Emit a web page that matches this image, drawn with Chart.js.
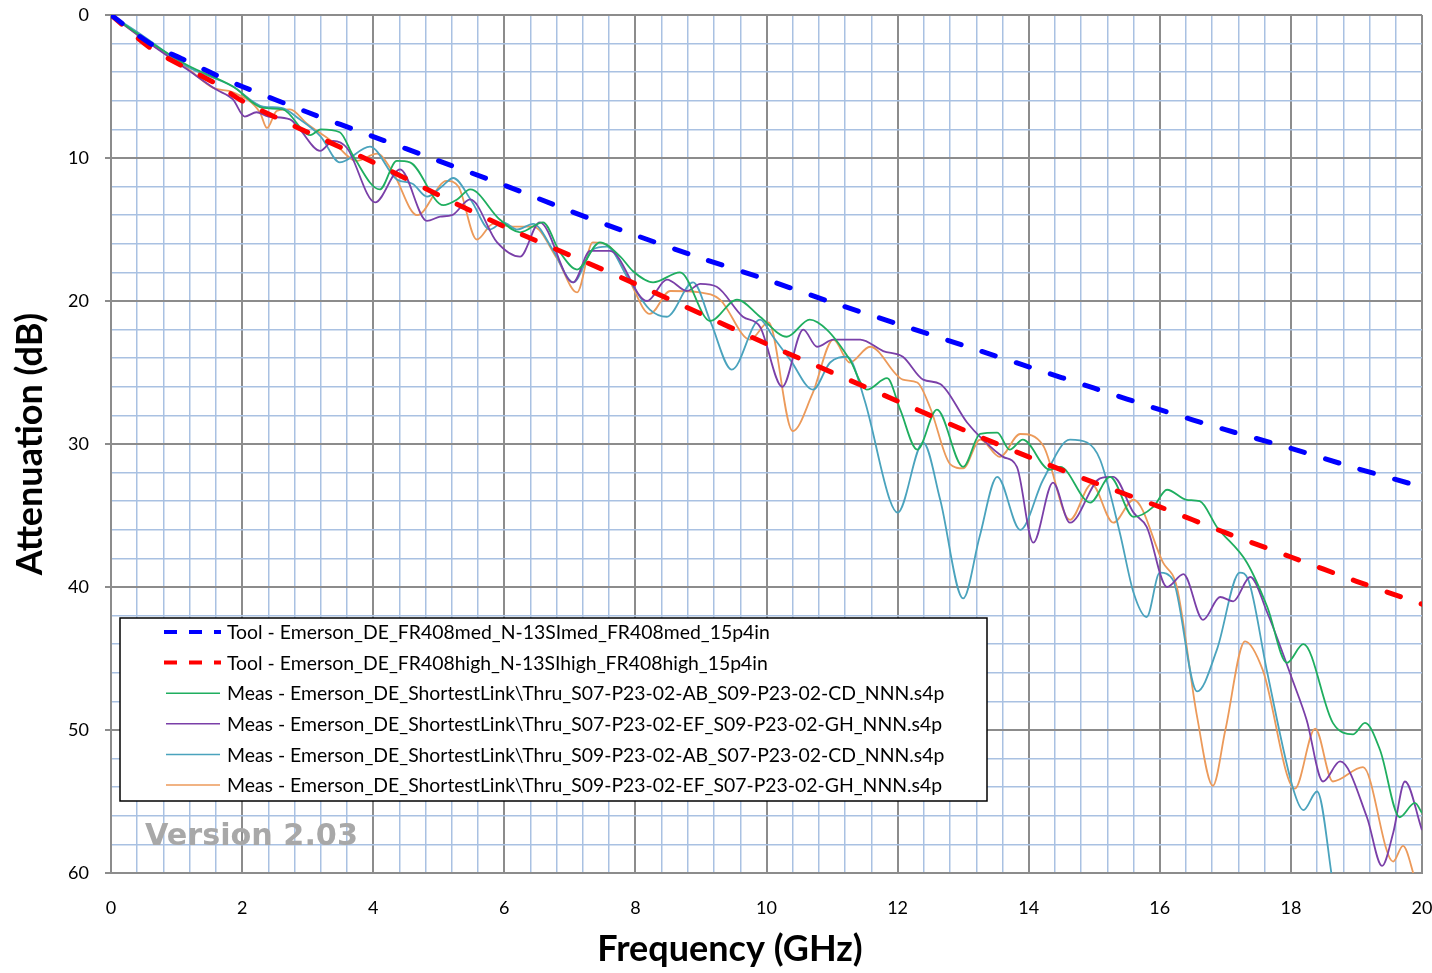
<!DOCTYPE html>
<html>
<head>
<meta charset="utf-8">
<script src="https://cdn.jsdelivr.net/npm/chart.js@4.4.1/dist/chart.umd.min.js"></script>
<style>
  html, body { margin: 0; padding: 0; background: #fff; }
</style>
</head>
<body>
<canvas id="chart" width="1432" height="973"></canvas>
<script>
// axis text
const xTitle = 'Frequency (GHz)';
const yTitle = 'Attenuation (dB)';
const watermarkText = 'Version 2.03';

const seriesNames = [
  'Tool - Emerson_DE_FR408med_N-13SImed_FR408med_15p4in',
  'Tool - Emerson_DE_FR408high_N-13SIhigh_FR408high_15p4in',
  'Meas - Emerson_DE_ShortestLink\\Thru_S07-P23-02-AB_S09-P23-02-CD_NNN.s4p',
  'Meas - Emerson_DE_ShortestLink\\Thru_S07-P23-02-EF_S09-P23-02-GH_NNN.s4p',
  'Meas - Emerson_DE_ShortestLink\\Thru_S09-P23-02-AB_S07-P23-02-CD_NNN.s4p',
  'Meas - Emerson_DE_ShortestLink\\Thru_S09-P23-02-EF_S07-P23-02-GH_NNN.s4p'
];

// tool (model) curves
const toolFreq = [0, 0.6, 1.1, 1.6, 2, 3, 4, 5, 6, 7, 8, 9, 10, 11, 12, 13, 14, 15, 16, 17, 18, 19, 20];
const toolMedDb = [0, 2.0, 3.1, 4.2, 5.0, 6.8, 8.5, 10.2, 11.9, 13.7, 15.4, 17.0, 18.5, 20.1, 21.6, 23.1, 24.6, 26.1, 27.6, 29.0, 30.3, 31.7, 33.0];
const toolHighDb = [0, 2.3, 3.6, 4.8, 6.0, 8.2, 10.3, 12.6, 14.8, 16.8, 18.8, 20.9, 23.0, 25.0, 27.0, 29.0, 30.9, 32.7, 34.4, 36.2, 37.9, 39.6, 41.2];

// S07 AB / S09 CD (green)
const abCdFreq = [0, 0.5, 1.16, 1.86, 2.32, 2.62, 3.04, 3.2, 3.49, 3.7, 4.1, 4.36, 4.56, 5.07, 5.28, 5.48, 5.93, 6.24, 6.59, 6.85, 7.11, 7.46, 7.77, 7.96, 8.27, 8.68, 9.14, 9.55, 9.9, 10.31, 10.66, 10.92, 11.27, 11.53, 11.84, 12.04, 12.3, 12.6, 13.0, 13.26, 13.52, 13.71, 13.91, 14.32, 14.48, 14.94, 15.24, 15.6, 15.9, 16.11, 16.41, 16.61, 16.87, 17.33, 17.64, 17.94, 18.19, 18.64, 18.95, 19.13, 19.36, 19.66, 19.89, 20.0];
const abCdDb = [0, 1.6, 3.5, 5.0, 6.5, 6.6, 8.4, 8.0, 8.2, 9.9, 12.2, 10.2, 10.3, 13.3, 12.9, 12.2, 14.3, 15.2, 14.5, 16.6, 17.8, 15.9, 16.9, 17.9, 18.7, 18.0, 21.4, 19.9, 21.1, 22.5, 21.3, 22.0, 24.1, 26.2, 25.4, 27.6, 30.4, 27.6, 31.6, 29.3, 29.2, 30.4, 29.7, 31.8, 31.6, 34.1, 32.3, 35.1, 34.4, 33.2, 33.9, 34.0, 35.8, 38.3, 41.4, 45.3, 44.0, 49.5, 50.3, 49.5, 51.4, 56.1, 55.1, 55.8];

// S07 EF / S09 GH (purple)
const efGhFreq = [0, 0.44, 1.16, 1.6, 1.86, 2.04, 2.22, 2.4, 2.73, 2.88, 3.19, 3.39, 3.6, 4.03, 4.41, 4.82, 5.02, 5.2, 5.48, 5.89, 6.24, 6.54, 7.05, 7.31, 7.61, 8.18, 8.48, 8.79, 8.99, 9.24, 9.64, 9.9, 10.24, 10.56, 10.77, 11.02, 11.43, 11.78, 12.08, 12.39, 12.65, 13.06, 13.3, 13.61, 13.82, 14.07, 14.37, 14.63, 15.09, 15.29, 15.6, 15.8, 16.11, 16.36, 16.66, 16.92, 17.12, 17.38, 17.64, 18.04, 18.24, 18.49, 18.75, 19.16, 19.39, 19.56, 19.74, 20.0];
const efGhDb = [0, 1.5, 3.8, 5.2, 5.9, 7.1, 6.8, 7.1, 7.3, 8.0, 9.5, 8.8, 9.3, 13.1, 10.8, 14.4, 14.1, 14.0, 12.9, 15.9, 16.9, 14.5, 18.7, 16.5, 16.5, 20.0, 18.5, 19.3, 18.8, 19.0, 21.1, 21.8, 26.0, 22.0, 23.2, 22.7, 22.7, 23.5, 23.9, 25.5, 25.8, 28.5, 29.7, 30.9, 31.6, 36.9, 32.7, 35.5, 32.4, 32.3, 34.8, 35.8, 40.0, 39.1, 42.3, 40.7, 41.0, 39.3, 41.8, 46.7, 49.3, 53.6, 52.2, 56.1, 59.5, 57.2, 53.6, 57.0];

// S09 AB / S07 CD (teal)
const abCd2Freq = [0, 0.5, 1.16, 1.86, 2.32, 2.6, 2.88, 3.2, 3.49, 3.95, 4.36, 4.6, 4.82, 5.07, 5.22, 5.5, 5.78, 5.98, 6.2, 6.44, 6.75, 7.05, 7.35, 7.56, 7.9, 8.22, 8.48, 8.88, 9.15, 9.47, 9.9, 10.1, 10.36, 10.71, 10.97, 11.23, 11.5, 11.88, 12.0, 12.39, 12.65, 13.0, 13.25, 13.52, 13.87, 14.22, 14.63, 14.89, 15.09, 15.39, 15.6, 15.8, 16.0, 16.2, 16.57, 16.87, 17.22, 17.35, 17.64, 18.04, 18.19, 18.4, 18.65];
const abCd2Db = [0, 1.5, 3.6, 5.0, 6.4, 6.5, 7.3, 8.5, 10.3, 9.2, 11.5, 11.8, 12.7, 11.9, 11.4, 13.0, 15.0, 14.5, 15.0, 14.6, 16.5, 18.7, 16.4, 16.2, 18.5, 20.6, 21.1, 18.7, 21.5, 24.8, 21.3, 22.5, 24.1, 26.2, 24.3, 23.9, 27.0, 33.9, 34.8, 29.9, 33.9, 40.8, 36.5, 32.3, 36.0, 32.5, 29.7, 29.9, 31.1, 36.2, 40.4, 42.1, 39.0, 39.5, 47.3, 44.4, 39.0, 39.5, 46.0, 54.2, 55.6, 54.3, 61.0];

// S09 EF / S07 GH (orange)
const efGh2Freq = [0, 0.5, 1.16, 1.56, 1.86, 2.27, 2.38, 2.53, 2.73, 2.99, 3.39, 3.75, 4.06, 4.3, 4.67, 5.12, 5.3, 5.58, 5.83, 6.13, 6.44, 6.8, 7.11, 7.35, 7.61, 7.9, 8.22, 8.53, 8.99, 9.29, 9.75, 10.03, 10.4, 10.7, 11.02, 11.27, 11.58, 12.08, 12.3, 12.5, 12.8, 13.0, 13.26, 13.56, 13.87, 14.22, 14.63, 14.96, 15.29, 15.6, 16.05, 16.26, 16.57, 16.81, 17.0, 17.3, 17.57, 18.06, 18.37, 18.64, 19.1, 19.56, 19.71, 19.9];
const efGh2Db = [0, 1.7, 3.7, 5.1, 5.4, 6.8, 7.9, 6.7, 6.6, 7.6, 8.9, 10.2, 9.7, 11.0, 14.0, 11.6, 12.0, 15.7, 14.6, 14.8, 14.8, 17.0, 19.4, 15.9, 16.2, 18.5, 20.9, 19.3, 19.4, 19.9, 22.7, 21.5, 29.1, 26.5, 22.7, 24.3, 23.2, 25.5, 25.7, 27.5, 31.4, 31.7, 29.7, 30.9, 29.3, 30.1, 35.3, 32.8, 35.5, 33.9, 38.3, 40.0, 49.1, 53.9, 50.0, 43.8, 45.8, 54.1, 49.9, 53.6, 52.6, 59.2, 58.1, 60.5];

function pts(freq, db) {
  return freq.map((f, i) => ({ x: f, y: db[i] }));
}

function dashed(label, freq, db, color) {
  return {
    label, data: pts(freq, db),
    borderColor: color, borderWidth: 5,
    borderDash: [14, 22], borderCapStyle: 'round',
    pointRadius: 0, tension: 0.3, fill: false
  };
}

function solid(label, freq, db, color) {
  return {
    label, data: pts(freq, db),
    borderColor: color, borderWidth: 1.8,
    pointRadius: 0, cubicInterpolationMode: 'monotone', fill: false
  };
}

const datasets = [
  dashed(seriesNames[0], toolFreq, toolMedDb, '#0000ff'),
  dashed(seriesNames[1], toolFreq, toolHighDb, '#ff0000'),
  solid(seriesNames[2], abCdFreq, abCdDb, '#1fae5f'),
  solid(seriesNames[3], efGhFreq, efGhDb, '#7a3fa8'),
  solid(seriesNames[4], abCd2Freq, abCd2Db, '#4aa3bd'),
  solid(seriesNames[5], efGh2Freq, efGh2Db, '#ec9a5a')
];

const majorGrid = '#8c8c8c';
const minorGrid = '#a9c1e2';

// legend box, watermark and x title
const decor = {
  id: 'decor',
  beforeDatasetsDraw(c) {
    const ctx = c.ctx;
    ctx.save();
    ctx.font = 'bold 30px "DejaVu Sans"';
    const w = ctx.measureText(watermarkText).width;
    const size = 30 * 213 / w;
    ctx.font = 'bold ' + size + 'px "DejaVu Sans"';
    ctx.fillStyle = '#a8a8a8';
    ctx.textBaseline = 'alphabetic';
    ctx.fillText(watermarkText, 145, 845);
    ctx.restore();
  },
  afterDraw(c) {
    const ctx = c.ctx;
    ctx.save();
    // legend
    const bx = 120, by = 618, bw = 867, bh = 183;
    ctx.fillStyle = '#fff';
    ctx.fillRect(bx, by, bw, bh);
    ctx.strokeStyle = '#000';
    ctx.lineWidth = 1.5;
    ctx.strokeRect(bx, by, bw, bh);
    ctx.font = '17px Lato';
    const longest = Math.max(...c.data.datasets.map(d => ctx.measureText(d.label).width));
    const fs = 17 * 718 / longest;
    ctx.font = fs + 'px Lato';
    ctx.textBaseline = 'middle';
    c.data.datasets.forEach((d, i) => {
      const y = by + 14 + i * 30.6;
      ctx.strokeStyle = d.borderColor;
      if (d.borderDash) {
        ctx.lineWidth = 4;
        ctx.setLineDash([13, 12]);
        ctx.lineCap = 'butt';
        ctx.beginPath(); ctx.moveTo(164, y); ctx.lineTo(221, y); ctx.stroke();
      } else {
        ctx.lineWidth = 1.5;
        ctx.setLineDash([]);
        ctx.beginPath(); ctx.moveTo(166, y); ctx.lineTo(220, y); ctx.stroke();
      }
      ctx.setLineDash([]);
      ctx.fillStyle = '#000';
      ctx.fillText(d.label, 227, y + 1);
    });
    // x axis title
    ctx.font = 'bold 36px Lato';
    ctx.fillStyle = '#000';
    ctx.textAlign = 'center';
    ctx.textBaseline = 'alphabetic';
    ctx.fillText(xTitle, 730, 961);
    ctx.restore();
  }
};

const ctx = document.getElementById('chart').getContext('2d');
const chart = new Chart(ctx, {
  type: 'line',
  data: { datasets },
  options: {
    responsive: false,
    animation: false,
    layout: { padding: { top: 15, right: 10, left: 0, bottom: 0 } },
    plugins: {
      legend: { display: false },
      tooltip: { enabled: false }
    },
    scales: {
      x: {
        type: 'linear', min: 0, max: 20,
        afterBuildTicks: s => { s.ticks = Array.from({ length: 51 }, (_, i) => ({ value: i * 2 / 5 })); },
        afterFit: s => { s.height = 100; s.paddingLeft = 0; s.paddingRight = 0; },
        ticks: {
          autoSkip: false, maxRotation: 0, padding: 24,
          color: '#000', font: { family: 'Lato', size: 18 },
          callback: (v, i) => (i % 5 === 0 ? String(Math.round(v)) : '')
        },
        grid: {
          drawTicks: false,
          color: c => (c.index % 5 === 0 ? majorGrid : minorGrid),
          lineWidth: c => (c.index % 5 === 0 ? 2 : 1.5)
        },
        border: { color: majorGrid, width: 2 }
      },
      y: {
        type: 'linear', min: 0, max: 60, reverse: true,
        afterBuildTicks: s => { s.ticks = Array.from({ length: 31 }, (_, i) => ({ value: i * 2 })); },
        afterFit: s => { s.width = 111; s.paddingTop = 0; s.paddingBottom = 0; },
        ticks: {
          autoSkip: false, padding: 16,
          color: '#000', font: { family: 'Lato', size: 18 },
          callback: (v, i) => (i % 5 === 0 ? String(Math.round(v)) : '')
        },
        grid: {
          tickLength: 6,
          color: c => (c.index % 5 === 0 ? majorGrid : minorGrid),
          tickColor: c => (c.index % 5 === 0 ? majorGrid : 'rgba(0,0,0,0)'),
          lineWidth: c => (c.index % 5 === 0 ? 2 : 1.5)
        },
        border: { color: majorGrid, width: 2 },
        title: {
          display: true, text: yTitle, color: '#000',
          font: { family: 'Lato', size: 36, weight: 'bold' },
          padding: { top: 9, bottom: 0 }
        }
      }
    }
  },
  plugins: [decor]
});
</script>
</body>
</html>
